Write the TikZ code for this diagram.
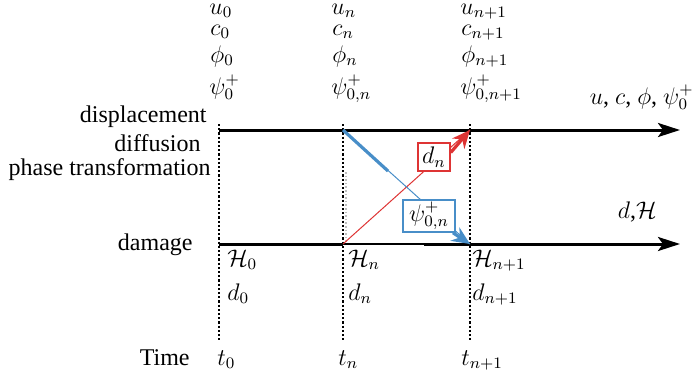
\documentclass[tikz,border=0pt]{standalone}
\usepackage{fontspec}
\setmainfont{Liberation Serif}
\usetikzlibrary{arrows.meta, positioning}
\definecolor{redline}{RGB}{222,52,52}
\definecolor{blueline}{RGB}{72,142,200}

\begin{document}
\begin{tikzpicture}[
  x=0.5pt, y=-0.5pt,
  font=\fontsize{12}{13.5}\selectfont,
  axis/.style={line width=1.5pt, -{Stealth[length=11pt, width=7pt, inset=2.5pt]}},
  timeline/.style={line width=1.1pt, densely dotted},
  var/.style={anchor=base west, inner sep=0pt},
  lbl/.style={anchor=east, inner sep=0pt},
  redbox/.style={draw=redline, line width=1pt, fill=white, inner sep=2pt, minimum width=15pt, minimum height=14pt},
  bluebox/.style={draw=blueline, line width=0.8pt, fill=white, inner sep=1pt, minimum width=26pt, minimum height=12.5pt},
  redarrow/.style={draw=redline, line width=1.6pt, -{Stealth[length=9pt, width=8pt, inset=3pt]}},
  bluearrow/.style={draw=blueline, line width=1.6pt, -{Stealth[length=9pt, width=8pt, inset=3pt]}}
]
\useasboundingbox (0,0) rectangle (692,381);

% Points des axes
\coordinate (a0) at (219,130);
\coordinate (an) at (343,130);
\coordinate (an1) at (470,130);
\coordinate (b0) at (219,244);
\coordinate (bn) at (343,244);
\coordinate (bn1) at (470,244);
\coordinate (bm) at (424,244);
\coordinate (aend) at (680,130);
\coordinate (bend) at (680,244);

% Lignes de temps
\foreach \x [count=\i] in {219,343,470} {
  \coordinate (top\i) at (\x,124);
  \coordinate (bot\i) at (\x,340);
  \draw[timeline] (top\i) -- (bot\i);
}
\coordinate (gtop) at (346,172);
\draw[gray!50, line width=0.8pt, densely dotted] (gtop) -- (gtop |- bn);

% Axes
\draw[axis] (a0) -- (aend);
\draw[line width=1.5pt] (b0) -- (bn);
\draw[line width=0.6pt] (bn) -- (bm);
\draw[axis] (bm) -- (bend);

% Variables
\foreach \x/\s/\p [count=\i] in {209/0/0, 331/n/{0,n}, 460/{n+1}/{0,n+1}} {
  \node[var] (u\i) at (\x,14) {$u_{\s}$};
  \node[var] (c\i) at (\x+1,35) {$c_{\s}$};
  \node[var] (phi\i) at (\x+1,62) {$\phi_{\s}$};
  \node[var] (psi\i) at (\x,94) {$\psi^+_{\p}$};
}
\foreach \x/\s [count=\i] in {227/0, 348/n, 472/{n+1}} {
  \node[var] (h\i) at (\x,266) {$\mathcal{H}_{\s}$};
  \node[var] (d\i) at (\x,300) {$d_{\s}$};
}
\foreach \x/\s [count=\i] in {217/0, 338/n, 461/{n+1}}
  \node[var] (t\i) at (\x,365) {$t_{\s}$};

% Etiquettes
\node[lbl] (disp) at (207,117) {displacement};
\node[lbl] (diff) at (201,143) {diffusion};
\node[lbl] (phase) at (211,170) {phase transformation};
\node[lbl] (dam) at (193,245) {damage};
\node[lbl, anchor=base east] (tlbl) at (190,365) {Time};
\node[lbl] (fields) at (694,97) {$u$, $c$, $\phi$, $\psi^+_0$};
\node[lbl] (dfield) at (657,212) {$d$,$\mathcal{H}$};

% Couplage
\coordinate (bk) at (388,171);
\draw[redline, line width=0.5pt] (bn) -- (an1);
\draw[blueline, line width=0.5pt] (an) -- (bn1);
\draw[blueline, line width=1.6pt] (an) -- (bk);
\node[redbox] (dn) at (434,157) {$d_n$};
\node[bluebox] (psin) at (429,216) {$\psi^+_{0,n}$};
\draw[redarrow] (dn.15) -- (an1);
\draw[bluearrow] (psin.-35) -- (bn1);

\end{tikzpicture}
\end{document}
